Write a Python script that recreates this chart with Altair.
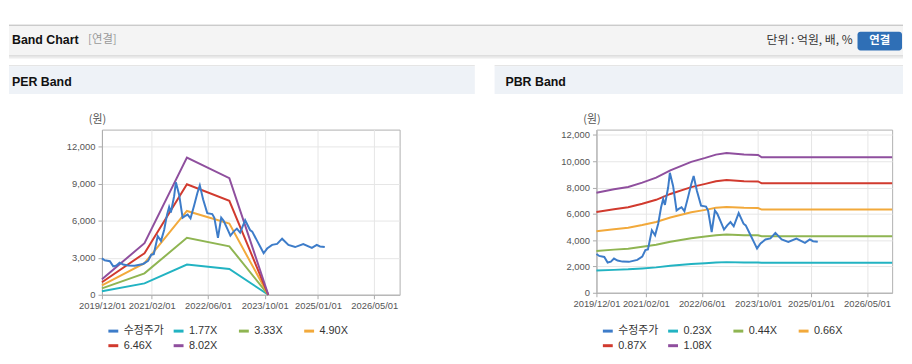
import altair as alt
import pandas as pd

FONT = "'Liberation Sans', 'Noto Sans CJK KR', sans-serif"
KFONT = "'Noto Sans CJK KR', 'Liberation Sans', sans-serif"

# ---------------- data ----------------
price_name = "수정주가"
price_dates = ["2019/12/01", "2019/12/25", "2020/02/07", "2020/03/07", "2020/04/04", "2020/05/01",
               "2020/06/01", "2020/07/13", "2020/09/07", "2020/11/19", "2021/01/01", "2021/01/28",
               "2021/02/19", "2021/03/25", "2021/04/22", "2021/05/19", "2021/06/13", "2021/07/01",
               "2021/07/16", "2021/08/13", "2021/08/28", "2021/09/25", "2021/10/25", "2021/11/13",
               "2021/12/07", "2022/01/01", "2022/02/01", "2022/03/01", "2022/03/22", "2022/04/19",
               "2022/05/25", "2022/07/07", "2022/07/25", "2022/08/25", "2022/09/22", "2022/10/13",
               "2022/11/13", "2022/12/10", "2023/01/07", "2023/02/04", "2023/03/04", "2023/04/16",
               "2023/05/28", "2023/06/16", "2023/07/28", "2023/08/25", "2023/09/22", "2023/10/22",
               "2023/12/04", "2024/01/16", "2024/02/28", "2024/04/22", "2024/06/19", "2024/08/28",
               "2024/11/10", "2024/12/22", "2025/01/19", "2025/03/01"]
price_values = [2950, 2800, 2720, 2300, 2370, 2600, 2450, 2370, 2350, 2500, 2750, 3250,
                3300, 4750, 4370, 5250, 6500, 7125, 6675, 8000, 9120, 8120, 6250, 6375,
                6500, 6200, 7250, 8250, 8875, 7750, 6625, 6550, 6250, 4620, 6250, 6000,
                5370, 4800, 5120, 5370, 5050, 6050, 5250, 5120, 4370, 3870, 3370, 3750,
                4050, 4130, 4550, 4050, 3870, 4120, 3800, 4050, 3920, 3870]

per_dates = ["2019/12/01", "2020/12/01", "2021/12/01", "2022/12/01", "2023/11/01"]
per_labels = ["1.77X", "3.33X", "4.90X", "6.46X", "8.02X"]
per_177 = [278, 924, 2455, 2089, 0]
per_333 = [523, 1738, 4619, 3929, 0]
per_490 = [769, 2558, 6796, 5782, 0]
per_646 = [1014, 3372, 8960, 7623, 0]
per_802 = [1259, 4186, 11124, 9464, 0]

pbr_dates = ["2019/12/01", "2020/05/01", "2020/09/01", "2021/01/01", "2021/05/01", "2021/09/01",
             "2022/03/01", "2022/07/01", "2022/10/01", "2023/01/01", "2023/06/01", "2023/10/01",
             "2023/11/01", "2026/12/05"]
pbr_labels = ["0.23X", "0.44X", "0.66X", "0.87X", "1.08X"]
pbr_023 = [1690, 1740, 1780, 1845, 1930, 2050, 2190, 2250, 2300, 2330, 2300, 2300, 2280, 2280]
pbr_044 = [3170, 3280, 3350, 3490, 3645, 3875, 4145, 4270, 4375, 4420, 4375, 4365, 4290, 4290]
pbr_066 = [4675, 4835, 4945, 5145, 5380, 5715, 6115, 6300, 6455, 6525, 6455, 6440, 6320, 6320]
pbr_087 = [6140, 6350, 6495, 6760, 7065, 7510, 8030, 8275, 8475, 8570, 8475, 8460, 8320, 8320]
pbr_108 = [7600, 7860, 8045, 8370, 8750, 9300, 9945, 10250, 10500, 10615, 10500, 10475, 10300, 10300]

x_ticks = [(2019, 12, 1), (2021, 2, 1), (2022, 6, 1), (2023, 10, 1), (2025, 1, 1), (2026, 5, 1)]
per_yticks = [0, 3000, 6000, 9000, 12000]
pbr_yticks = [0, 2000, 4000, 6000, 8000, 10000, 12000]

colors = ["#3d7cc9", "#22b3c2", "#8fb552", "#f2a93b", "#d13a2e", "#8f4f9e"]

price_df = pd.DataFrame({"date": price_dates, "value": price_values, "series": price_name})


def band_df(dates, labels, lists):
    frames = []
    for lab, vals in zip(labels, lists):
        frames.append(pd.DataFrame({"date": dates, "value": vals, "series": lab}))
    return pd.concat(frames, ignore_index=True)


per_df = band_df(per_dates, per_labels, [per_177, per_333, per_490, per_646, per_802])
pbr_df = band_df(pbr_dates, pbr_labels, [pbr_023, pbr_044, pbr_066, pbr_087, pbr_108])

one = pd.DataFrame({"k": [0]})


def rect(x, x2, y, y2, color, **kw):
    return alt.Chart(one).mark_rect(color=color, **kw).encode(
        x=alt.value(x), x2=alt.value(x2), y=alt.value(y), y2=alt.value(y2))


def label(txt, x, y, **kw):
    return alt.Chart(one).mark_text(text=txt, baseline="middle", **kw).encode(
        x=alt.value(x), y=alt.value(y))


x_domain = [alt.DateTime(year=2019, month=12, date=1), alt.DateTime(year=2026, month=12, date=5)]


def panel(bands, labels, ymax, yticks, width, height, decor):
    domain = [price_name] + labels
    color = alt.Color("series:N",
                      scale=alt.Scale(domain=domain, range=colors),
                      legend=alt.Legend(orient="none", direction="horizontal",
                                        legendX=5, legendY=197, columns=4,
                                        gridAlign="all", columnPadding=3, rowPadding=2,
                                        symbolType="stroke", symbolSize=100, symbolStrokeWidth=3,
                                        labelFont=FONT, labelFontSize=11, labelColor="#333",
                                        labelOffset=4, padding=0, title=None))
    x = alt.X("date:T", title=None,
              scale=alt.Scale(domain=x_domain),
              axis=alt.Axis(values=[alt.DateTime(year=a, month=b, date=c) for a, b, c in x_ticks],
                            format="%Y/%m/%d", labelFont=FONT, labelFontSize=9.5,
                            labelColor="#555", tickSize=4, tickColor="#aaa",
                            domainColor="#aaa", gridColor="#e6e6e6", labelPadding=2,
                            labelFlush=False, labelOverlap=False))
    y = alt.Y("value:Q",
              scale=alt.Scale(domain=[0, ymax], nice=False, zero=False),
              axis=alt.Axis(values=yticks, format=",d", title="(원)", titleAngle=0,
                            titleX=-5, titleY=-10, titleAlign="center", titleBaseline="middle",
                            titleFont=KFONT, titleFontSize=11, titleFontWeight="normal",
                            titleColor="#555", labelFont=FONT, labelFontSize=9.5,
                            labelColor="#555", tickSize=4, tickColor="#aaa", domainColor="#aaa",
                            gridColor="#e6e6e6", labelPadding=3))
    band_lines = alt.Chart(bands).mark_line(strokeWidth=2).encode(
        x=x, y=y, color=color, detail="series:N")
    price_line = alt.Chart(price_df).mark_line(strokeWidth=2).encode(
        x=x, y=y, color=color)
    return alt.layer(*decor, band_lines, price_line).properties(width=width, height=height)


TITLE = dict(font=FONT, fontSize=12.5, fontWeight="bold", color="#111", align="left")

left_decor = [
    rect(-94, 810, -106, -105, "#a9a9a9"),
    rect(-94, 810, -105, -75, "#f4f4f4"),
    rect(-94, 810, -75, -74, "#c4c4c4"),
    rect(-94, 810, -74, -72, "#ececec"),
    label("Band Chart", -91, -91, **TITLE),
    label("[연결]", -14, -91, font=KFONT, fontSize=11.5, color="#999", align="left"),
    label("단위 : 억원, 배, %", 759, -91, font=KFONT, fontSize=12, color="#333", align="right"),
    rect(764, 809, -99, -80, "#2f6fb6", cornerRadius=3),
    label("연결", 786.5, -90, font=KFONT, fontSize=11.5, fontWeight="bold", color="#ffffff",
          align="center"),
    rect(-94, 377, -65, -64, "#dcdcdc"),
    rect(-94, 377, -64, -36, "#eef2f7"),
    label("PER Band", -91, -48, **TITLE),
]

right_decor = [
    rect(-103, 310, -65, -64, "#dcdcdc"),
    rect(-103, 310, -64, -36, "#eef2f7"),
    label("PBR Band", -92, -48, **TITLE),
]

left = panel(per_df, per_labels, 13400, per_yticks, 301, 167, left_decor)
right = panel(pbr_df, pbr_labels, 12400, pbr_yticks, 299, 165, right_decor)

chart = alt.hconcat(left, right, spacing=199, bounds="flush").resolve_scale(
    color="independent", x="independent", y="independent"
).configure_view(stroke="#b0b0b0", strokeWidth=1).properties(
    padding={"left": 0, "top": 14, "right": 0, "bottom": 4},
    background="#ffffff",
)

chart.save("out.html", embed_options={"renderer": "svg", "actions": False})
